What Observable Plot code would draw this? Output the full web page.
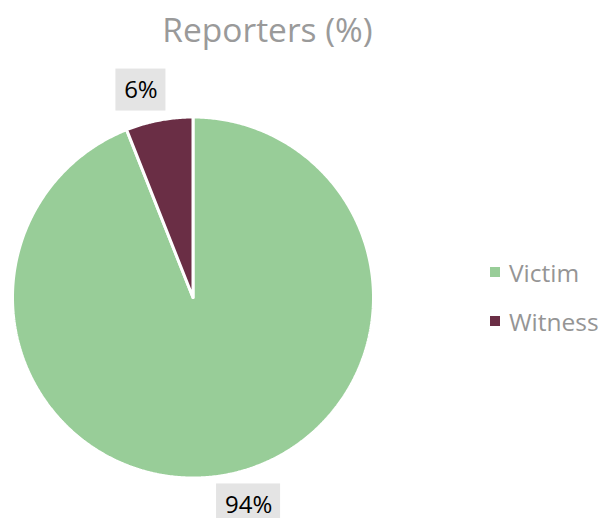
<!DOCTYPE html>
<html>
<head>
<meta charset="utf-8">
<script src="https://cdn.jsdelivr.net/npm/d3@7"></script>
<script src="https://cdn.jsdelivr.net/npm/@observablehq/plot@0.6"></script>
<style>
  html, body { margin: 0; padding: 0; background: #fff; }
  #wrap { position: relative; width: 605px; height: 518px; overflow: hidden; font-family: "Open Sans", sans-serif; }
  #title { position: absolute; left: 267.5px; top: 7px; transform: translateX(-50%); font-size: 33.5px; color: #9a9a9a; white-space: nowrap; line-height: 44px; }
  .leg { position: absolute; left: 490px; display: flex; align-items: center; font-size: 24.5px; color: #959595; white-space: nowrap; }
  .leg .sw { width: 10px; height: 10px; margin-right: 9px; }
  #chart { position: absolute; left: 0; top: 0; }
</style>
</head>
<body>
<div id="wrap">
  <div id="chart"></div>
  <div id="title">Reporters (%)</div>
  <div id="legend"></div>
</div>
<script>
const categories = ["Victim", "Witness"];
const values = [94, 6];
const labels = ["94%", "6%"];
const colors = ["#98cd98", "#6a2e45"];

const W = 605, H = 518;
const R = 180.5, CX = 192.5, CY = 297;

const data = categories.map((c, i) => ({category: c, value: values[i], label: labels[i]}));
const arcs = d3.pie().sort(null).value(d => d.value)(data);

// slice outlines in unit-radius coordinates (angle clockwise from 12 o'clock)
const slicePts = [];
arcs.forEach(a => {
  const n = Math.max(2, Math.ceil((a.endAngle - a.startAngle) / (Math.PI / 360)));
  slicePts.push({category: a.data.category, x: 0, y: 0});
  for (let k = 0; k <= n; k++) {
    const t = a.startAngle + (a.endAngle - a.startAngle) * k / n;
    slicePts.push({category: a.data.category, x: Math.sin(t), y: Math.cos(t)});
  }
  slicePts.push({category: a.data.category, x: 0, y: 0});
});

// outside-end data labels with a grey box (box size in px converted to unit radius)
const labelPts = arcs.map(a => {
  const t = (a.startAngle + a.endAngle) / 2;
  const r = 1.17;
  const wPx = 14 * a.data.label.length + 22, hPx = 42;
  const x = Math.sin(t) * r + Math.sign(Math.sin(t)) * (wPx / 4) / R;
  const y = Math.cos(t) * r;
  return {label: a.data.label, x, y,
    x1: x - wPx / 2 / R, x2: x + wPx / 2 / R,
    y1: y - hPx / 2 / R, y2: y + hPx / 2 / R};
});

const plot = Plot.plot({
  width: W, height: H,
  marginTop: 0, marginRight: 0, marginBottom: 0, marginLeft: 0,
  x: {domain: [-CX / R, (W - CX) / R], axis: null},
  y: {domain: [-(H - CY) / R, CY / R], axis: null},
  color: {domain: categories, range: colors},
  style: {background: "transparent", overflow: "visible"},
  marks: [
    Plot.line(slicePts, {x: "x", y: "y", z: "category", fill: "category", stroke: "#ffffff", strokeWidth: 3, strokeLinejoin: "miter", curve: "linear"}),
    Plot.rect(labelPts, {x1: "x1", x2: "x2", y1: "y1", y2: "y2", fill: "#e4e4e4"}),
    Plot.text(labelPts, {x: "x", y: "y", text: "label", fontSize: 24, fill: "#000", fontFamily: "Open Sans"})
  ]
});
document.getElementById("chart").appendChild(plot);

const legend = document.getElementById("legend");
const legTops = [272, 321];
categories.forEach((c, i) => {
  const row = document.createElement("div");
  row.className = "leg";
  row.style.top = (legTops[i] - 17) + "px";
  row.style.height = "34px";
  row.innerHTML = `<span class="sw" style="background:${colors[i]}"></span><span>${c}</span>`;
  legend.appendChild(row);
});
</script>
</body>
</html>
